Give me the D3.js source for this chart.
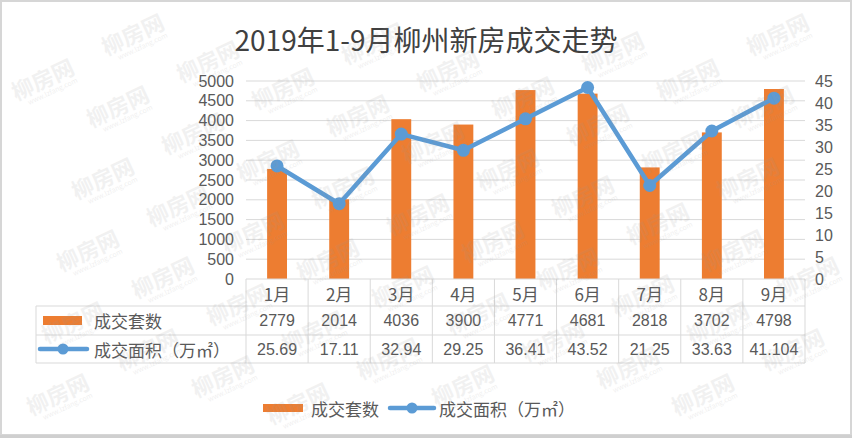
<!DOCTYPE html>
<html><head><meta charset="utf-8">
<script src="https://cdn.jsdelivr.net/npm/d3@7"></script>
<style>
html,body{margin:0;padding:0;background:#fff;}
text{font-family:"Noto Sans CJK SC","Noto Sans",sans-serif;}
</style></head>
<body>
<svg id="c" width="852" height="438"></svg>
<script>
const title = "2019年1-9月柳州新房成交走势";
const months = ["1月","2月","3月","4月","5月","6月","7月","8月","9月"];
const units = [2779,2014,4036,3900,4771,4681,2818,3702,4798];
const areaLabels = ["25.69","17.11","32.94","29.25","36.41","43.52","21.25","33.63","41.104"];
const area = [25.69,17.11,32.94,29.25,36.41,43.52,21.25,33.63,41.104];
const leftTicks = [0,500,1000,1500,2000,2500,3000,3500,4000,4500,5000];
const rightTicks = [0,5,10,15,20,25,30,35,40,45];
const seriesNames = ["成交套数","成交面积（万㎡）"];
const watermarkText = "柳房网";
const watermarkUrl = "www.lzfang.com";

const W=852,H=438;
const svg=d3.select("#c");
const barColor="#ED7D31", lineColor="#5B9BD5", grid="#d9d9d9", txt="#595959";
const numFont="'Liberation Sans','Noto Sans',sans-serif";
const plotL=246, plotR=805, yTop=81, yBot=279;
const rowH=[279,306,335,363];

svg.append("rect").attr("x",0).attr("y",0).attr("width",W).attr("height",H).attr("fill","#fff");

const x=d3.scaleBand().domain(months).range([plotL,plotR]).padding(0);
const yL=d3.scaleLinear().domain([0,5000]).range([yBot,yTop]);
const yR=d3.scaleLinear().domain([0,45]).range([yBot,yTop]);

// gridlines
svg.append("g").selectAll("line").data(leftTicks.filter(d=>d>0)).join("line")
  .attr("x1",plotL).attr("x2",plotR).attr("y1",d=>yL(d)).attr("y2",d=>yL(d))
  .attr("stroke",grid).attr("stroke-width",1);

// axes
const gl=svg.append("g").attr("transform",`translate(${plotL},0)`)
  .call(d3.axisLeft(yL).tickValues(leftTicks).tickSize(0).tickPadding(12).tickFormat(d3.format("d")));
gl.select(".domain").remove();
gl.selectAll("text").attr("font-size",16).attr("fill",txt).style("font-family",numFont);
const gr=svg.append("g").attr("transform",`translate(${plotR},0)`)
  .call(d3.axisRight(yR).tickValues(rightTicks).tickSize(0).tickPadding(10).tickFormat(d3.format("d")));
gr.select(".domain").remove();
gr.selectAll("text").attr("font-size",16).attr("fill",txt).style("font-family",numFont);

// bars
const bw=x.bandwidth()*0.32;
svg.append("g").selectAll("rect").data(units).join("rect")
  .attr("x",(d,i)=>x(months[i])+x.bandwidth()/2-bw/2)
  .attr("width",bw)
  .attr("y",d=>yL(d)).attr("height",d=>yBot-yL(d))
  .attr("fill",barColor);

// line
const line=d3.line().x((d,i)=>x(months[i])+x.bandwidth()/2).y(d=>yR(d));
svg.append("path").datum(area).attr("d",line).attr("fill","none")
  .attr("stroke",lineColor).attr("stroke-width",4.5).attr("stroke-linejoin","round").attr("stroke-linecap","round");
svg.append("g").selectAll("circle").data(area).join("circle")
  .attr("cx",(d,i)=>x(months[i])+x.bandwidth()/2).attr("cy",d=>yR(d)).attr("r",6.5)
  .attr("fill",lineColor);

// table
const tg=svg.append("g");
tg.append("line").attr("x1",plotL).attr("x2",plotR).attr("y1",rowH[0]).attr("y2",rowH[0]).attr("stroke",grid);
[rowH[1],rowH[2],rowH[3]].forEach(yy=>{
  tg.append("line").attr("x1",36).attr("x2",plotR).attr("y1",yy).attr("y2",yy).attr("stroke",grid);
});
const vx=months.map(m=>x(m)).concat([plotR]);
tg.selectAll("line.v").data(vx).join("line").attr("class","v")
  .attr("x1",d=>d).attr("x2",d=>d).attr("y1",rowH[0]).attr("y2",rowH[3]).attr("stroke",grid);
tg.append("line").attr("x1",36).attr("x2",36).attr("y1",rowH[1]).attr("y2",rowH[3]).attr("stroke",grid);

const cell=(arr,yc,fs)=>tg.append("g").selectAll("text").data(arr).join("text")
  .attr("x",(d,i)=>x(months[i])+x.bandwidth()/2).attr("y",yc)
  .attr("text-anchor","middle").attr("dominant-baseline","central")
  .attr("font-size",fs).attr("fill",txt).text(d=>d);
cell(months,(rowH[0]+rowH[1])/2+1,17);
cell(units.map(String),(rowH[1]+rowH[2])/2,16).style("font-family",numFont);
cell(areaLabels,(rowH[2]+rowH[3])/2,16).style("font-family",numFont);

// table legend keys
const r1=(rowH[1]+rowH[2])/2, r2=(rowH[2]+rowH[3])/2;
tg.append("rect").attr("x",43).attr("y",r1-4.5).attr("width",39).attr("height",9).attr("fill",barColor);
tg.append("line").attr("x1",40).attr("x2",87).attr("y1",r2).attr("y2",r2).attr("stroke",lineColor).attr("stroke-width",4.5).attr("stroke-linecap","round");
tg.append("circle").attr("cx",63).attr("cy",r2).attr("r",5.5).attr("fill",lineColor);
tg.append("text").attr("x",94).attr("y",r1).attr("dominant-baseline","central").attr("font-size",17).attr("fill",txt).text(seriesNames[0]);
tg.append("text").attr("x",94).attr("y",r2).attr("dominant-baseline","central").attr("font-size",17).attr("fill",txt).text(seriesNames[1]);

// bottom legend
const ly=408;
const lg=svg.append("g");
lg.append("rect").attr("x",263).attr("y",ly-4).attr("width",40).attr("height",8).attr("fill",barColor);
lg.append("text").attr("x",311).attr("y",ly).attr("dominant-baseline","central").attr("font-size",17).attr("fill",txt).text(seriesNames[0]);
lg.append("line").attr("x1",390).attr("x2",434).attr("y1",ly).attr("y2",ly).attr("stroke",lineColor).attr("stroke-width",4.5).attr("stroke-linecap","round");
lg.append("circle").attr("cx",412).attr("cy",ly).attr("r",5.5).attr("fill",lineColor);
lg.append("text").attr("x",439).attr("y",ly).attr("dominant-baseline","central").attr("font-size",17).attr("fill",txt).text(seriesNames[1]);

// title
svg.append("text").attr("x",426).attr("y",39).attr("text-anchor","middle").attr("dominant-baseline","central")
  .attr("font-size",28).attr("fill","#404040").text(title);

// watermark (decorative, faint lattice)
const wm=svg.append("g").attr("pointer-events","none");
const ox=42, oy=78, ax=75, ay=27, bxv=-15, byv=72;
for(let i=-8;i<14;i++){
  for(let j=-6;j<8;j++){
    const wx=ox+i*ax+j*bxv, wy=oy+i*ay+j*byv;
    if(wx<42||wx>808||wy<32||wy>408) continue;
    const g=wm.append("g").attr("transform",`translate(${wx},${wy}) rotate(-25)`);
    g.append("text").attr("text-anchor","middle").attr("dominant-baseline","central")
      .attr("font-size",22).attr("font-weight","bold")
      .attr("fill","#9a9a9a").attr("opacity",0.13).text(watermarkText);
    g.append("text").attr("x",4).attr("y",16).attr("text-anchor","middle").attr("dominant-baseline","central")
      .attr("font-size",7).attr("fill","#9a9a9a").attr("opacity",0.15).text(watermarkUrl);
  }
}

// outer frame
svg.append("rect").attr("x",1).attr("y",1).attr("width",W-2).attr("height",H-4)
  .attr("fill","none").attr("stroke","#d6d6d6").attr("stroke-width",2);
svg.append("rect").attr("x",0).attr("y",H-3).attr("width",W).attr("height",3).attr("fill","#cfcfcf");
</script>
</body></html>
